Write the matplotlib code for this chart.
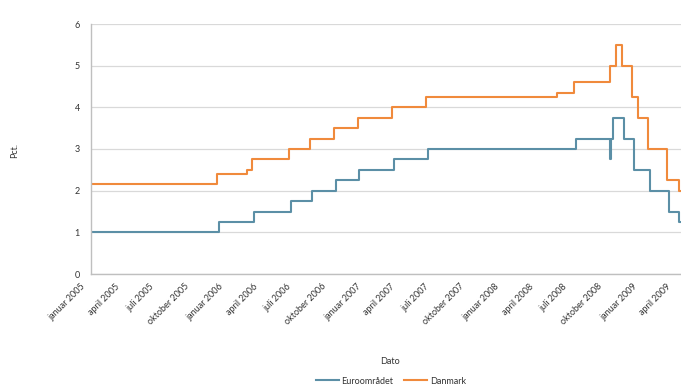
import pandas as pd
import matplotlib
matplotlib.use('Agg')
from matplotlib import pyplot as plt
from matplotlib.transforms import ScaledTranslation

plt.rcParams['font.family'] = ['Lato', 'DejaVu Sans']

# Styringsrenter (pct.), datoer hvor renten blev aendret
euro_dates = ['2005-01-01', '2005-12-06', '2006-03-08', '2006-06-15', '2006-08-09',
              '2006-10-11', '2006-12-13', '2007-03-14', '2007-06-13', '2008-07-09',
              '2008-10-08', '2008-10-09', '2008-10-15', '2008-11-12', '2008-12-10',
              '2009-01-21', '2009-03-11', '2009-04-08']
euro_rates = [1.00, 1.25, 1.50, 1.75, 2.00, 2.25, 2.50, 2.75, 3.00, 3.25,
              2.75, 3.25, 3.75, 3.25, 2.50, 2.00, 1.50, 1.25]

dk_dates = ['2005-01-01', '2005-12-02', '2006-02-17', '2006-03-03', '2006-06-09',
            '2006-08-04', '2006-10-06', '2006-12-08', '2007-03-09', '2007-06-08',
            '2008-05-19', '2008-07-04', '2008-10-07', '2008-10-24', '2008-11-07',
            '2008-12-05', '2008-12-19', '2009-01-16', '2009-03-06', '2009-04-09']
dk_rates = [2.15, 2.40, 2.50, 2.75, 3.00, 3.25, 3.50, 3.75, 4.00, 4.25,
            4.35, 4.60, 5.00, 5.50, 5.00, 4.25, 3.75, 3.00, 2.25, 2.00]

start = pd.Timestamp('2005-01-01')
end = pd.Timestamp('2009-04-13')

months_dk = {1: 'januar', 4: 'april', 7: 'juli', 10: 'oktober'}
tick_dates = pd.date_range(start, '2009-04-01', freq='3MS')
tick_labels = [months_dk[d.month] + ' ' + str(d.year) for d in tick_dates]


def as_steps(dates, values):
    # forlaeng sidste niveau til slutdatoen
    x = list(pd.to_datetime(dates)) + [end]
    y = list(values) + [values[-1]]
    return x, y


fig = plt.figure(figsize=(6.81, 3.89), dpi=100)
ax = fig.add_axes([91 / 681, 1 - 274 / 389, 590 / 681, 250 / 389])

x, y = as_steps(euro_dates, euro_rates)
ax.step(x, y, where='post', color='#5b8fa6', lw=1.5, label='Euroområdet')
x, y = as_steps(dk_dates, dk_rates)
ax.step(x, y, where='post', color='#f08a3c', lw=1.5, label='Danmark')

ax.set_xlim(start, end)
ax.set_ylim(0, 6)
ax.set_yticks(range(0, 7))
ax.grid(axis='y', color='#d9d9d9', lw=0.9)
ax.set_axisbelow(True)

for side in ['top', 'right']:
    ax.spines[side].set_visible(False)
for side in ['left', 'bottom']:
    ax.spines[side].set_color('#bfbfbf')
    ax.spines[side].set_linewidth(1.0)

ax.set_xticks(tick_dates)
ax.set_xticklabels(tick_labels, rotation=45, ha='right', va='center',
                   rotation_mode='anchor', fontsize=6.5, color='#333333')
ax.tick_params(axis='x', length=0, pad=8)
ax.tick_params(axis='y', length=0, pad=8, labelsize=6.5, labelcolor='#333333')
shift = ScaledTranslation(-5 / 72, 0, fig.dpi_scale_trans)
for lbl in ax.get_xticklabels():
    lbl.set_transform(lbl.get_transform() + shift)

ax.set_xlabel('Dato', fontsize=6.5, color='#333333')
ax.xaxis.set_label_coords((390 - 91) / 590, -(357 - 274) / 250)
fig.text(15 / 681, 1 - 150 / 389, 'Pct.', rotation=90, ha='center', va='center',
         fontsize=6.5, color='#333333')

fig.legend(loc='center', bbox_to_anchor=(391 / 681, 1 - 381 / 389), ncol=2,
           frameon=False, fontsize=6.5, handlelength=2.5, handletextpad=0.3,
           columnspacing=1.2, labelcolor='#333333')

fig.savefig('out.png', dpi=100)
